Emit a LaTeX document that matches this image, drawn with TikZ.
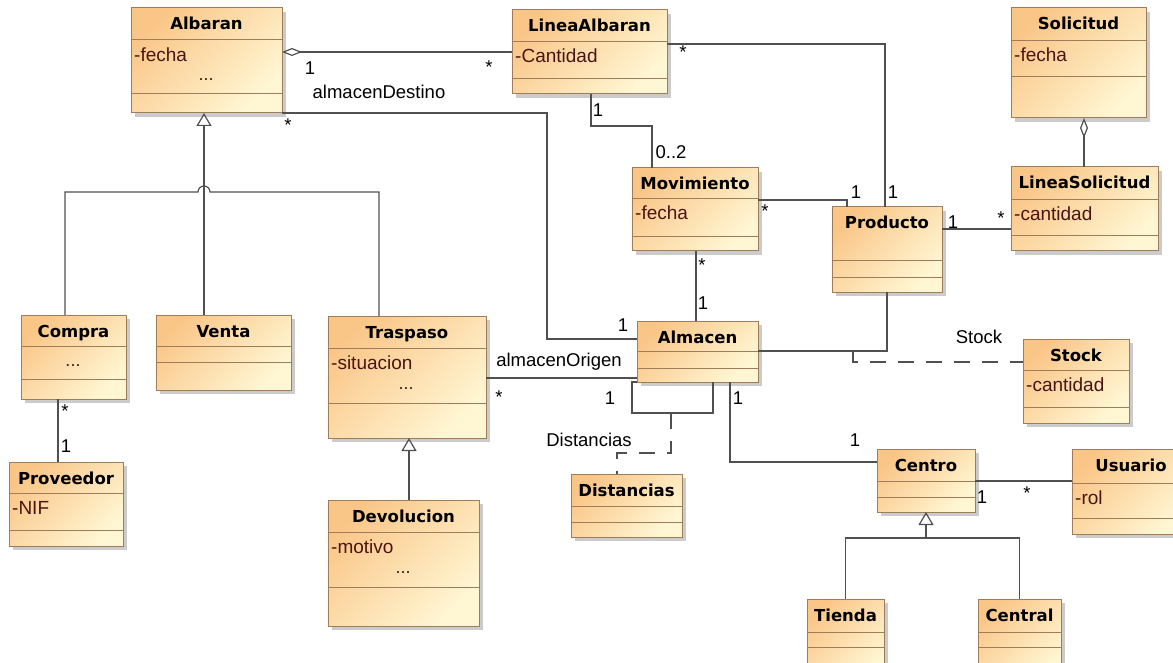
\documentclass[tikz,border=0pt]{standalone}
\usepackage{fontspec}
\setmainfont{Liberation Sans}
\newfontfamily\titlefont{DejaVu Sans}
\usetikzlibrary{arrows.meta,fit,shadows}

\definecolor{boxtop}{RGB}{250,198,136}
\definecolor{boxbottom}{RGB}{255,247,212}
\definecolor{boxline}{RGB}{160,125,90}
\definecolor{linkline}{RGB}{80,80,80}
\definecolor{attrtext}{RGB}{75,20,20}

\tikzset{
  classbox/.style={draw=boxline, line width=1pt, inner sep=0pt, outer sep=0pt,
    top color=boxtop, bottom color=boxbottom, shading angle=45,
    drop shadow={shadow xshift=4pt, shadow yshift=-4pt, fill=black!40, opacity=0.5}},
  sepline/.style={boxline, line width=1pt},
  classname/.style={font=\titlefont\bfseries\fontsize{16.5}{18}\selectfont, inner sep=0pt, anchor=base},
  attr/.style={font=\fontsize{19}{21}\selectfont, text=attrtext, inner sep=0pt, anchor=base west},
  dots/.style={font=\fontsize{18}{20}\selectfont, text=attrtext, inner sep=0pt, anchor=base},
  lbl/.style={font=\fontsize{18.5}{20}\selectfont, inner sep=0pt},
  assoc/.style={linkline, line width=1.2pt},
  gen/.style={assoc, -{Triangle[open, length=13pt, width=15pt]}},
  aggr/.style={assoc, -{Diamond[open, length=20pt, width=8pt]}},
  assocclass/.style={assoc, dash pattern=on 16pt off 12pt},
}

% name, x1, y1, x2, y2, first separator, second separator, title
\newcommand{\umlclass}[8]{%
  \node[classbox, fit={(#2,#3) (#4,#5)}] (#1) {};
  \draw[sepline] (#2,#6) -- (#4,#6) (#2,#7) -- (#4,#7);
  \node[classname, yshift=-22pt] (#1name) at (#1.north) {#8};
}

\begin{document}
\begin{tikzpicture}[x=1pt, y=-1pt]
  \useasboundingbox (0,0) rectangle (1173,663);
  \fill[white] (0,0) rectangle (1173,663);
  \clip (0,0) rectangle (1173,663);

  % classes
  \umlclass{albaran}{131}{8}{282}{113}{40}{94}{Albaran}
  \umlclass{linalb}{512}{10}{667}{94}{42}{79}{LineaAlbaran}
  \umlclass{solicitud}{1011}{8}{1146}{118}{41}{77}{Solicitud}
  \umlclass{linsol}{1011}{167}{1158}{251}{200}{236}{LineaSolicitud}
  \umlclass{movimiento}{632}{168}{758}{251}{199}{237}{Movimiento}
  \umlclass{producto}{832}{207}{942}{292}{261}{277}{Producto}
  \umlclass{almacen}{637}{321}{758}{382}{351}{368}{Almacen}
  \umlclass{stock}{1023}{339}{1129}{423}{370}{407}{Stock}
  \umlclass{centro}{877}{449}{975}{512}{481}{497}{Centro}
  \umlclass{usuario}{1072}{449}{1190}{534}{483}{518}{Usuario}
  \umlclass{tienda}{807}{599}{884}{680}{632}{647}{Tienda}
  \umlclass{central}{978}{599}{1061}{680}{632}{647}{Central}
  \umlclass{compra}{21}{315}{126}{399}{346}{379}{Compra}
  \umlclass{venta}{156}{315}{291}{390}{346}{362}{Venta}
  \umlclass{traspaso}{328}{316}{486}{438}{348}{403}{Traspaso}
  \umlclass{proveedor}{9}{462}{123}{546}{493}{530}{Proveedor}
  \umlclass{devolucion}{328}{500}{479}{626}{532}{587}{Devolucion}
  \umlclass{distancias}{571}{474}{682}{537}{506}{522}{Distancias}

  % attributes
  \node[attr] (albaranA) at (134,62) {-fecha};
  \node[dots] (albaranB) at (206,81) {...};
  \node[attr] (linalbA) at (515,63) {-Cantidad};
  \node[attr] (solicitudA) at (1014,62) {-fecha};
  \node[attr] (linsolA) at (1014,221) {-cantidad};
  \node[attr] (movimientoA) at (635,220) {-fecha};
  \node[attr] (stockA) at (1026,391) {-cantidad};
  \node[attr] (usuarioA) at (1075,504) {-rol};
  \node[dots] (compraA) at (73,366) {...};
  \node[attr] (traspasoA) at (331,369) {-situacion};
  \node[dots] (traspasoB) at (406,389) {...};
  \node[attr] (proveedorA) at (12,514) {-NIF};
  \node[attr] (devolucionA) at (331,553) {-motivo};
  \node[dots] (devolucionB) at (403,573) {...};

  % connectors
  \draw[aggr] (linalb.west |- 0,52) -- (albaran.east |- 0,52);
  \draw[assoc] (albaran.south east) -| (547,339) -- (almacen.west |- 0,339);
  \draw[assoc] (linalb.east |- 0,44) -| (producto.north -| 885,0);
  \draw[assoc] (linalb.south -| 591,0) |- (652,126) -- (movimiento.north -| 652,0);
  \draw[assoc] (movimiento.east |- 0,200) -| (producto.north -| 847,0);
  \draw[assoc] (movimiento.south -| 696,0) -- (almacen.north -| 696,0);
  \draw[assoc] (producto.east |- 0,229) -- (linsol.west |- 0,229);
  \draw[aggr] (linsol.north -| 1084,0) -- (solicitud.south -| 1084,0);
  \draw[assoc] (almacen.east |- 0,351) -| (producto.south);
  \coordinate (stockjoin) at (853,351);
  \draw[assocclass] (stockjoin) |- (stock.west |- 0,362);
  \draw[assoc] (almacen.south west) -| (632,413) -| (almacen.south -| 713,0);
  \coordinate (distjoin) at (671,413);
  \draw[assocclass] (distjoin) |- (617,453) -- (distancias.north -| 617,0);
  \draw[assoc] (almacen.south -| 730,0) |- (centro.west |- 0,462);
  \draw[assoc] (traspaso.east |- 0,378) -- (almacen.west |- 0,378);
  \draw[assoc] (centro.east |- 0,481) -- (usuario.west |- 0,481);
  \draw[assoc] (compra.south -| 58,0) -- (proveedor.north -| 58,0);

  % generalizations
  \draw[gen] (venta.north -| 204,0) -- (albaran.south -| 204,0);
  \draw[assoc] (compra.north -| 65,0) |- (198,192) arc[start angle=180, end angle=360, radius=6] -| (traspaso.north -| 379,0);
  \draw[gen] (devolucion.north -| 409,0) -- (traspaso.south -| 409,0);
  \coordinate (centrojoin) at (926,538);
  \draw[assoc] (tienda.north) |- (centrojoin) -| (central.north);
  \draw[gen] (centrojoin) -- (centro.south);

  % role names and multiplicities
  \node[lbl] (m1) at (310,68) {1};
  \node[lbl] (m2) at (489,67) {*};
  \node[lbl] (rdestino) at (379,92) {almacenDestino};
  \node[lbl] (m3) at (288,125) {*};
  \node[lbl] (m4) at (623,325) {1};
  \node[lbl] (m5) at (683,52) {*};
  \node[lbl] (m6) at (893,192) {1};
  \node[lbl] (m7) at (598,110) {1};
  \node[lbl] (m8) at (671,152) {0..2};
  \node[lbl] (m9) at (765,211) {*};
  \node[lbl] (m10) at (856,192) {1};
  \node[lbl] (m11) at (702,265) {*};
  \node[lbl] (m12) at (703,303) {1};
  \node[lbl] (m13) at (953,222) {1};
  \node[lbl] (m14) at (1001,218) {*};
  \node[lbl] (rstock) at (979,337) {Stock};
  \node[lbl] (rorigen) at (559,362) {almacenOrigen};
  \node[lbl] (m15) at (499,397) {*};
  \node[lbl] (m16) at (610,398) {1};
  \node[lbl] (rdist) at (589,440) {Distancias};
  \node[lbl] (m17) at (738,398) {1};
  \node[lbl] (m18) at (855,440) {1};
  \node[lbl] (m19) at (982,497) {1};
  \node[lbl] (m20) at (1027,493) {*};
  \node[lbl] (m21) at (65,411) {*};
  \node[lbl] (m22) at (66,446) {1};
\end{tikzpicture}
\end{document}
